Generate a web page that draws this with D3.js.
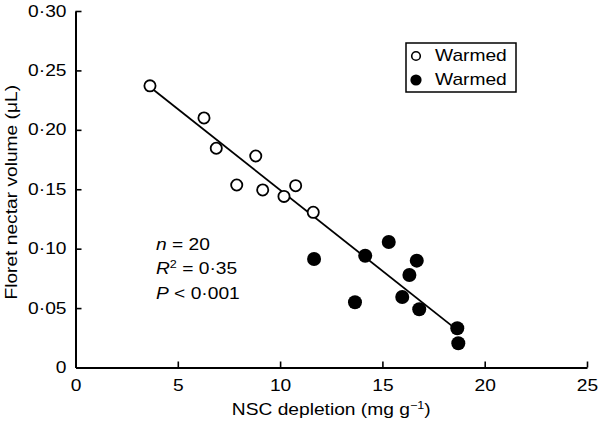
<!DOCTYPE html>
<html>
<head>
<meta charset="utf-8">
<script src="https://cdn.jsdelivr.net/npm/d3@7"></script>
<style>
  body { margin: 0; background: #fff; }
  svg text { font-family: "Liberation Sans", Arial, sans-serif; fill: #000; }
</style>
</head>
<body>
<svg id="chart" width="600" height="422"></svg>
<script>
// open symbols (x = NSC depletion, y = nectar volume)
const openX = [3.64, 6.28, 6.88, 8.81, 7.88, 9.15, 10.19, 10.76, 11.62];
const openY = [0.237, 0.210, 0.1845, 0.178, 0.1536, 0.1494, 0.144, 0.153, 0.1306];
// filled symbols
const filledX = [11.66, 14.16, 15.31, 16.68, 16.32, 13.66, 15.97, 16.80, 18.66, 18.71];
const filledY = [0.0913, 0.0941, 0.1056, 0.0899, 0.0778, 0.0549, 0.0593, 0.049, 0.033, 0.0204];
// fitted line
const fitIntercept = 0.2856;
const fitSlope = -0.01362;
const fitRange = [3.64, 18.66];

const xTicks = [0, 5, 10, 15, 20, 25];
const yTicks = [0, 0.05, 0.10, 0.15, 0.20, 0.25, 0.30];
const legendLabels = ["Warmed", "Warmed"];

const margin = { left: 75.5, top: 11, right: 13, bottom: 54.5 };
const width = 600 - margin.left - margin.right;
const height = 422 - margin.top - margin.bottom;
const fontSize = 16;
const stretchK = 1.2; // the original type is set wide

const svg = d3.select("#chart");
const g = svg.append("g")
    .attr("transform", "translate(" + margin.left + "," + margin.top + ")");

const x = d3.scaleLinear().domain([0, 25]).range([0, width]);
const y = d3.scaleLinear().domain([0, 0.30]).range([height, 0]);

const fmtY = d => d === 0 ? "0" : d3.format(".2f")(d).replace(".", "·");

// widen text horizontally around its anchor point
function stretch(sel) {
    sel.each(function () {
        const t = d3.select(this);
        const ax = +t.attr("x") || 0;
        const prev = t.attr("transform") || "";
        t.attr("transform", `${prev} translate(${ax},0) scale(${stretchK},1) translate(${-ax},0)`);
    });
}

const xAxis = g.append("g")
    .attr("transform", `translate(0,${height})`)
    .call(d3.axisBottom(x).tickValues(xTicks).tickSizeInner(-6).tickSizeOuter(0).tickPadding(12));
const yAxis = g.append("g")
    .call(d3.axisLeft(y).tickValues(yTicks).tickFormat(fmtY).tickSizeInner(-6).tickSizeOuter(0).tickPadding(9));

[xAxis, yAxis].forEach(a => {
    a.attr("font-size", fontSize).attr("font-family", null);
    a.select(".domain").attr("stroke", "#000").attr("stroke-width", 2);
    a.selectAll(".tick line").attr("stroke", "#000").attr("stroke-width", 1.6);
    a.selectAll(".tick text").attr("fill", "#000");
    stretch(a.selectAll(".tick text"));
});
xAxis.selectAll(".tick").filter(d => d === 0).select("line").remove();
yAxis.selectAll(".tick").filter(d => d === 0).select("line").remove();

// axis titles
const xTitle = svg.append("text")
    .attr("x", margin.left + width / 2)
    .attr("y", 415)
    .attr("text-anchor", "middle")
    .attr("font-size", fontSize);
xTitle.append("tspan").text("NSC depletion (mg g");
xTitle.append("tspan").attr("dy", -6).attr("font-size", 10.5).text("−1");
xTitle.append("tspan").attr("dy", 6).text(")");
stretch(xTitle);

const yTitle = svg.append("text")
    .attr("transform", `translate(17,${margin.top + height / 2 + 3}) rotate(-90)`)
    .attr("text-anchor", "middle")
    .attr("font-size", fontSize)
    .text("Floret nectar volume (μL)");
stretch(yTitle);

// regression line
g.append("line")
    .attr("x1", x(fitRange[0])).attr("y1", y(fitIntercept + fitSlope * fitRange[0]))
    .attr("x2", x(fitRange[1])).attr("y2", y(fitIntercept + fitSlope * fitRange[1]))
    .attr("stroke", "#000").attr("stroke-width", 1.8);

// points
g.selectAll(".open")
    .data(openX.map((d, i) => [d, openY[i]]))
    .enter().append("circle")
    .attr("class", "open")
    .attr("cx", d => x(d[0])).attr("cy", d => y(d[1]))
    .attr("r", 5.6)
    .attr("fill", "#fff").attr("stroke", "#000").attr("stroke-width", 1.8);

g.selectAll(".filled")
    .data(filledX.map((d, i) => [d, filledY[i]]))
    .enter().append("circle")
    .attr("class", "filled")
    .attr("cx", d => x(d[0])).attr("cy", d => y(d[1]))
    .attr("r", 7)
    .attr("fill", "#000");

// stats text
const statX = 156 - margin.left;
const nText = g.append("text").attr("font-size", fontSize).attr("x", statX).attr("y", 250 - margin.top);
nText.append("tspan").attr("font-style", "italic").text("n");
nText.append("tspan").text(" = 20");
const r2 = g.append("text").attr("font-size", fontSize).attr("x", statX).attr("y", 274.5 - margin.top);
r2.append("tspan").attr("font-style", "italic").text("R");
r2.append("tspan").attr("font-size", 10.5).attr("dy", -6).text("2");
r2.append("tspan").attr("dy", 6).text(" = 0·35");
const p = g.append("text").attr("font-size", fontSize).attr("x", statX).attr("y", 299 - margin.top);
p.append("tspan").attr("font-style", "italic").text("P");
p.append("tspan").text(" < 0·001");
[nText, r2, p].forEach(stretch);

// legend
const legend = svg.append("g").attr("transform", "translate(406,43)");
legend.append("rect")
    .attr("width", 110).attr("height", 49)
    .attr("fill", "none").attr("stroke", "#000").attr("stroke-width", 1.5);
legendLabels.forEach((lab, i) => {
    const cy = 13 + i * 24;
    legend.append("circle")
        .attr("cx", 10).attr("cy", cy)
        .attr("r", i === 0 ? 4.3 : 5.6)
        .attr("fill", i === 0 ? "#fff" : "#000")
        .attr("stroke", "#000").attr("stroke-width", i === 0 ? 1.6 : 0);
    const t = legend.append("text")
        .attr("x", 29).attr("y", cy + 5.5)
        .attr("font-size", fontSize)
        .text(lab);
    stretch(t);
});
</script>
</body>
</html>
